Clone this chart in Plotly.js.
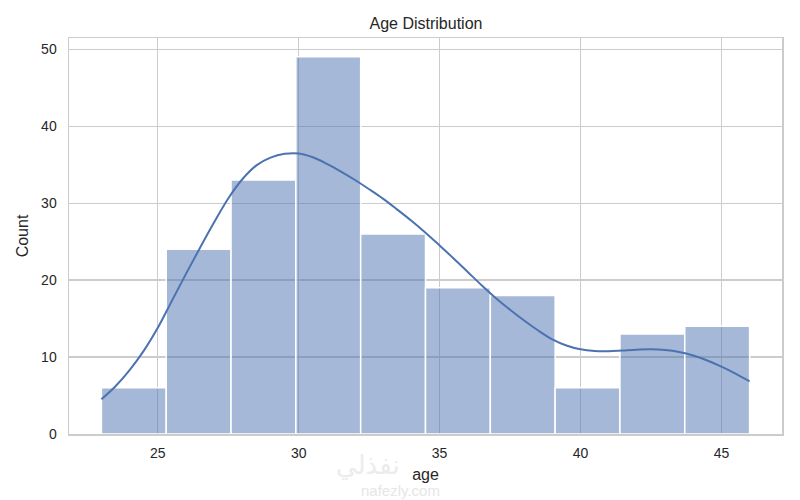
<!DOCTYPE html>
<html>
<head>
<meta charset="utf-8">
<script src="https://cdn.plot.ly/plotly-3.0.1.min.js"></script>
<style>
  html, body { margin: 0; padding: 0; background: #ffffff; }
  #chart { width: 800px; height: 500px; }
</style>
</head>
<body>
<div id="chart"></div>
<script>
// Histogram bins (age) and counts
var binEdges = [23.0, 25.3, 27.6, 29.9, 32.2, 34.5, 36.8, 39.1, 41.4, 43.7, 46.0];
var counts = [6, 24, 33, 49, 26, 19, 18, 6, 13, 14];

// KDE curve (scaled to counts), every 0.5 year
var kdeX = [23.0, 23.5, 24.0, 24.5, 25.0, 25.5, 26.0, 26.5, 27.0, 27.5, 28.0, 28.5, 29.0, 29.5,
            30.0, 30.5, 31.0, 31.5, 32.0, 32.5, 33.0, 33.5, 34.0, 34.5, 35.0, 35.5, 36.0, 36.5,
            37.0, 37.5, 38.0, 38.5, 39.0, 39.5, 40.0, 40.5, 41.0, 41.5, 42.0, 42.5, 43.0, 43.5,
            44.0, 44.5, 45.0, 45.5, 46.0];
var kdeY = [4.5, 6.2, 8.3, 10.8, 13.8, 17.3, 20.8, 24.2, 27.5, 30.6, 33.1, 34.9, 35.9, 36.4,
            36.45, 35.95, 35.1, 34.1, 33.0, 31.8, 30.55, 29.15, 27.7, 26.15, 24.5, 22.8, 21.05, 19.3,
            17.65, 16.15, 14.75, 13.45, 12.3, 11.5, 11.0, 10.78, 10.75, 10.85, 10.95, 11.0, 10.9, 10.65,
            10.2, 9.55, 8.75, 7.85, 6.85];

var xTicks = [25, 30, 35, 40, 45];
var yTicks = [0, 10, 20, 30, 40, 50];

var centers = [], widths = [];
for (var i = 0; i < counts.length; i++) {
  centers.push((binEdges[i] + binEdges[i + 1]) / 2);
  widths.push(binEdges[i + 1] - binEdges[i]);
}

var bars = {
  type: 'bar',
  x: centers,
  y: counts,
  width: widths,
  marker: {
    color: 'rgba(76,114,176,0.5)',
    line: { color: '#ffffff', width: 1.5 }
  },
  hoverinfo: 'x+y',
  showlegend: false
};

var kde = {
  type: 'scatter',
  mode: 'lines',
  x: kdeX,
  y: kdeY,
  line: { color: '#4c72b0', width: 2, shape: 'spline', smoothing: 1 },
  showlegend: false
};

var axisCommon = {
  showgrid: true,
  gridcolor: '#cccccc',
  gridwidth: 1.2,
  zeroline: false,
  showline: true,
  linecolor: '#cccccc',
  linewidth: 1.5,
  mirror: true,
  ticks: '',
  tickfont: { family: 'Liberation Sans, Arial, sans-serif', size: 14, color: '#262626' }
};

var layout = {
  width: 800,
  height: 500,
  margin: { l: 69, r: 18, t: 38, b: 66 },
  paper_bgcolor: '#ffffff',
  plot_bgcolor: '#ffffff',
  font: { family: 'Liberation Sans, Arial, sans-serif', color: '#262626' },
  title: {
    text: 'Age Distribution',
    font: { size: 16, color: '#262626' },
    x: 0.5325, xanchor: 'center',
    y: 0.954, yanchor: 'middle'
  },
  xaxis: Object.assign({}, axisCommon, {
    range: [21.85, 47.15],
    tickvals: xTicks,
    ticktext: xTicks.map(String),
    ticklabelstandoff: 6,
    title: { text: 'age', font: { size: 16, color: '#262626' }, standoff: 8 }
  }),
  yaxis: Object.assign({}, axisCommon, {
    range: [0, 51.45],
    tickvals: yTicks,
    ticktext: yTicks.map(String),
    ticklabelstandoff: 8,
    title: { text: 'Count', font: { size: 16, color: '#262626' }, standoff: 8 }
  }),
  bargap: 0,
  annotations: [
    { text: 'نفذلي', xref: 'paper', yref: 'paper', x: 0.42, y: -0.075, xanchor: 'center', yanchor: 'middle',
      showarrow: false, font: { family: 'Noto Sans, DejaVu Sans, sans-serif', size: 26, color: '#ececec' } },
    { text: 'nafezly.com', xref: 'paper', yref: 'paper', x: 0.465, y: -0.142, xanchor: 'center', yanchor: 'middle',
      showarrow: false, font: { family: 'Liberation Sans, Arial, sans-serif', size: 15, color: '#e6e6e6' } }
  ]
};

Plotly.newPlot('chart', [bars, kde], layout, { displayModeBar: false, staticPlot: true });
</script>
</body>
</html>
